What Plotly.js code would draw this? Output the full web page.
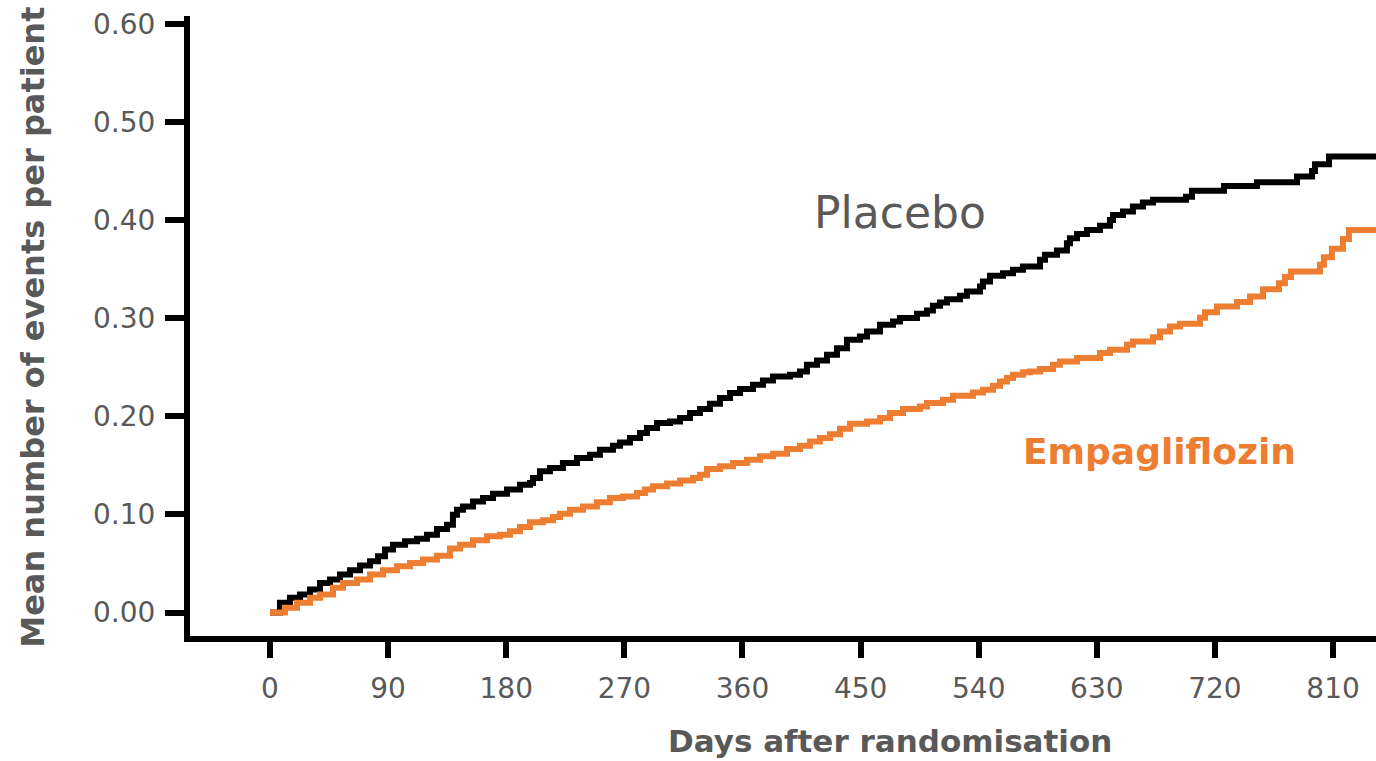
<!DOCTYPE html>
<html>
<head>
<meta charset="utf-8">
<script src="https://cdn.plot.ly/plotly-3.0.1.min.js"></script>
<style>
  html, body { margin: 0; padding: 0; background: #ffffff; }
  #chart { width: 1376px; height: 761px; }
</style>
</head>
<body>
<div id="chart"></div>
<script>
// Mean cumulative number of events per patient, step curves by treatment arm
const placeboDays = [0, 7.6, 15.2, 22.9, 30.5, 38.1, 45.7, 53.3, 61.0, 68.6, 76.2, 82.3, 87.6, 93.7,
  102.9, 112.0, 119.6, 127.2, 134.9, 139.4, 142.5, 147.0, 154.7, 162.3, 169.9, 180.6, 190.5, 198.1,
  200.4, 205.7, 213.3, 223.2, 233.9, 243.8, 251.4, 261.3, 266.7, 274.3, 281.9, 287.2, 294.9, 304.8,
  312.4, 320.0, 327.6, 335.2, 342.9, 350.5, 358.1, 368.0, 375.6, 383.2, 396.2, 403.8, 409.1, 416.8,
  424.4, 432.0, 439.6, 449.5, 454.9, 464.8, 474.7, 480.0, 493.0, 500.6, 505.1, 510.5, 515.8, 525.7,
  531.0, 541.0, 543.2, 548.6, 558.5, 566.1, 573.7, 586.7, 590.5, 599.6, 607.2, 609.5, 614.9, 622.5,
  632.4, 640.0, 642.3, 649.9, 657.5, 665.1, 672.8, 697.9, 702.5, 726.9, 752.0, 782.5, 794.0, 796.2,
  806.9, 845];
const placeboMean = [0, 0.0099, 0.0150, 0.0183, 0.0234, 0.0302, 0.0336, 0.0387, 0.0431, 0.0479, 0.0522,
  0.0573, 0.0642, 0.0692, 0.0726, 0.0751, 0.0794, 0.0852, 0.0896, 0.0998, 0.1049, 0.1082, 0.1133,
  0.1168, 0.1212, 0.1253, 0.1303, 0.1321, 0.1372, 0.1439, 0.1474, 0.1524, 0.1575, 0.1609, 0.1660,
  0.1701, 0.1734, 0.1779, 0.1830, 0.1881, 0.1932, 0.1948, 0.1983, 0.2034, 0.2074, 0.2128, 0.2186,
  0.2237, 0.2278, 0.2322, 0.2366, 0.2406, 0.2424, 0.2457, 0.2525, 0.2569, 0.2627, 0.2695, 0.2780,
  0.2814, 0.2865, 0.2933, 0.2966, 0.3001, 0.3045, 0.3078, 0.3126, 0.3160, 0.3194, 0.3228, 0.3272,
  0.3323, 0.3374, 0.3432, 0.3459, 0.3493, 0.3527, 0.3595, 0.3646, 0.3689, 0.3765, 0.3816, 0.3859,
  0.3900, 0.3941, 0.4002, 0.4053, 0.4087, 0.4138, 0.4178, 0.4206, 0.4239, 0.4300, 0.4348, 0.4386,
  0.4443, 0.4501, 0.4569, 0.4647, 0.4647];

const empaDays = [0, 11.4, 20.6, 30.5, 38.1, 48.0, 55.6, 66.3, 76.2, 86.1, 96.8, 106.7, 116.6, 127.2,
  137.1, 144.8, 154.7, 165.3, 175.2, 182.9, 190.5, 198.1, 208.0, 215.6, 221.0, 228.6, 238.5, 249.1,
  259.0, 268.9, 279.6, 285.7, 291.8, 302.5, 312.4, 322.3, 327.6, 333.0, 342.9, 352.8, 363.4, 373.3,
  383.2, 393.9, 403.8, 411.4, 419.0, 426.7, 434.3, 441.9, 454.9, 464.8, 472.4, 482.3, 495.2, 500.6,
  512.8, 520.4, 535.6, 543.2, 550.9, 556.2, 561.5, 566.1, 573.7, 579.0, 586.7, 596.6, 601.9, 614.9,
  632.4, 640.0, 653.0, 657.5, 672.8, 678.1, 685.7, 693.3, 708.6, 712.4, 721.5, 736.8, 746.7, 756.6,
  768.8, 773.3, 777.9, 800.0, 803.0, 809.1, 817.5, 822.1, 845];
const empaMean = [0, 0.0048, 0.0099, 0.0150, 0.0183, 0.0252, 0.0302, 0.0336, 0.0387, 0.0431, 0.0471,
  0.0506, 0.0540, 0.0580, 0.0652, 0.0692, 0.0736, 0.0777, 0.0794, 0.0828, 0.0873, 0.0920, 0.0940,
  0.0975, 0.1008, 0.1049, 0.1082, 0.1123, 0.1168, 0.1184, 0.1219, 0.1253, 0.1286, 0.1314, 0.1347,
  0.1372, 0.1405, 0.1463, 0.1490, 0.1524, 0.1558, 0.1592, 0.1619, 0.1667, 0.1701, 0.1744, 0.1779,
  0.1818, 0.1874, 0.1925, 0.1948, 0.1983, 0.2034, 0.2074, 0.2101, 0.2135, 0.2169, 0.2210, 0.2243,
  0.2271, 0.2312, 0.2355, 0.2390, 0.2424, 0.2449, 0.2457, 0.2482, 0.2525, 0.2559, 0.2594, 0.2645,
  0.2678, 0.2729, 0.2763, 0.2807, 0.2865, 0.2915, 0.2943, 0.3004, 0.3060, 0.3119, 0.3164, 0.3221,
  0.3296, 0.3357, 0.3419, 0.3476, 0.3544, 0.3622, 0.3707, 0.3806, 0.3900, 0.3900];

const xTickVals = [0, 90, 180, 270, 360, 450, 540, 630, 720, 810];
const yTickVals = [0, 0.1, 0.2, 0.3, 0.4, 0.5, 0.6];
const yTickText = ['0.00', '0.10', '0.20', '0.30', '0.40', '0.50', '0.60'];

const seriesNames = ['Placebo', 'Empagliflozin'];
const xTitle = 'Days after randomisation';
const yTitle = 'Mean number of events per patient';

const GREY = '#595959';
const ORANGE = '#ED7D31';
const FONT = 'DejaVu Sans, Arial, sans-serif';

const traces = [
  {
    x: placeboDays, y: placeboMean, name: seriesNames[0],
    type: 'scatter', mode: 'lines',
    line: { color: '#000000', width: 6, shape: 'hv' },
    hoverinfo: 'x+y'
  },
  {
    x: empaDays, y: empaMean, name: seriesNames[1],
    type: 'scatter', mode: 'lines',
    line: { color: ORANGE, width: 6, shape: 'hv' },
    hoverinfo: 'x+y'
  }
];

const layout = {
  width: 1376, height: 761,
  margin: { l: 190, r: 0, t: 16, b: 124.5, pad: 0 },
  paper_bgcolor: '#ffffff', plot_bgcolor: '#ffffff',
  showlegend: false,
  font: { family: FONT, color: GREY },
  xaxis: {
    range: [-60.95, 842.7],
    tickvals: xTickVals,
    ticks: 'outside', ticklen: 16, tickwidth: 6, tickcolor: '#000000',
    showline: true, linewidth: 6, linecolor: '#000000',
    showgrid: false, zeroline: false,
    tickfont: { family: FONT, size: 28, color: GREY },
    ticklabelstandoff: 6
  },
  yaxis: {
    range: [-0.0239, 0.608],
    tickvals: yTickVals, ticktext: yTickText,
    ticks: 'outside', ticklen: 19, tickwidth: 6, tickcolor: '#000000',
    showline: true, linewidth: 6, linecolor: '#000000',
    showgrid: false, zeroline: false,
    tickfont: { family: FONT, size: 28, color: GREY },
    ticklabelstandoff: 4
  },
  annotations: [
    {
      text: xTitle, xref: 'paper', yref: 'paper', x: 0.590, y: -0.170,
      xanchor: 'center', yanchor: 'middle', showarrow: false,
      font: { family: FONT, size: 31, color: GREY, weight: 'bold' }
    },
    {
      text: yTitle, xref: 'paper', yref: 'paper', x: -0.1324, y: 0.4988,
      xanchor: 'center', yanchor: 'middle', showarrow: false, textangle: -90,
      font: { family: FONT, size: 32, color: GREY, weight: 'bold' }
    },
    {
      text: seriesNames[0], xref: 'x', yref: 'y', x: 480, y: 0.408,
      xanchor: 'center', yanchor: 'middle', showarrow: false,
      font: { family: FONT, size: 44, color: GREY }
    },
    {
      text: seriesNames[1], xref: 'x', yref: 'y', x: 678, y: 0.164,
      xanchor: 'center', yanchor: 'middle', showarrow: false,
      font: { family: FONT, size: 36, color: ORANGE, weight: 'bold' }
    }
  ]
};

Plotly.newPlot('chart', traces, layout, { displayModeBar: false, staticPlot: true });
</script>
</body>
</html>
